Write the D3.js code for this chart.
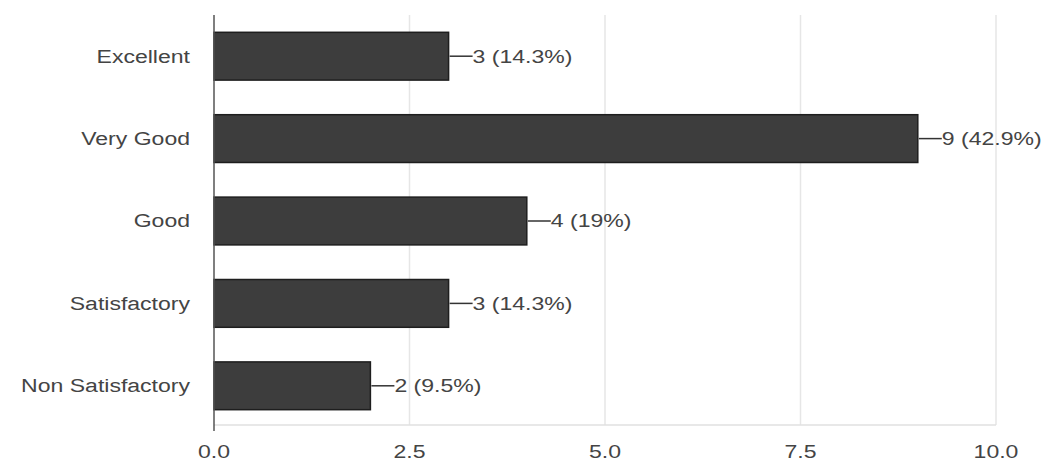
<!DOCTYPE html>
<html>
<head>
<meta charset="utf-8">
<script src="https://cdn.jsdelivr.net/npm/d3@7"></script>
<style>
  body { margin: 0; background: #fff; }
  text { font-family: "Liberation Sans", Arial, sans-serif; }
</style>
</head>
<body>
<div class="graph"></div>
<script>
// chart data
var categories = ["Excellent", "Very Good", "Good", "Satisfactory", "Non Satisfactory"];
var counts = [3, 9, 4, 3, 2];
var percents = ["14.3%", "42.9%", "19%", "14.3%", "9.5%"];
var xTicks = [0, 2.5, 5, 7.5, 10];

var width = 1050, height = 470;
var margin = { top: 15, right: 54, bottom: 45, left: 214 };
var stretch = 1.28; // text in the picture looks wide

var svg = d3.select(".graph").append("svg")
  .attr("width", width)
  .attr("height", height);

var x = d3.scaleLinear()
  .domain([0, 10])
  .range([margin.left, width - margin.right]);

var y = d3.scaleBand()
  .domain(categories)
  .range([margin.top, height - margin.bottom + 2])
  .paddingInner(0.42)
  .paddingOuter(0.21);

// gridlines
svg.append("g")
  .selectAll("line")
  .data(xTicks.slice(1))
  .enter().append("line")
  .attr("x1", function (d) { return x(d); })
  .attr("x2", function (d) { return x(d); })
  .attr("y1", margin.top)
  .attr("y2", height - margin.bottom)
  .attr("stroke", "#e6e6e6")
  .attr("stroke-width", 1.5);

// bottom axis line
svg.append("line")
  .attr("x1", x(0))
  .attr("x2", x(10))
  .attr("y1", height - margin.bottom)
  .attr("y2", height - margin.bottom)
  .attr("stroke", "#e0e0e0")
  .attr("stroke-width", 1.5);

// x tick labels
svg.append("g")
  .selectAll("text")
  .data(xTicks)
  .enter().append("text")
  .attr("transform", function (d) {
    return "translate(" + x(d) + "," + (height - margin.bottom + 27) + ") scale(" + stretch + ",1)";
  })
  .attr("text-anchor", "middle")
  .attr("dy", "0.35em")
  .style("font-size", "18px")
  .attr("fill", "#444")
  .text(d3.format(".1f"));

// bars
svg.append("g")
  .selectAll("rect")
  .data(categories)
  .enter().append("rect")
  .attr("x", x(0))
  .attr("y", function (d) { return y(d); })
  .attr("width", function (d, i) { return x(counts[i]) - x(0); })
  .attr("height", y.bandwidth())
  .attr("fill", "#3d3d3d")
  .attr("stroke", "#1e1e1e")
  .attr("stroke-width", 1.5);

// left axis line
svg.append("line")
  .attr("x1", x(0))
  .attr("x2", x(0))
  .attr("y1", margin.top)
  .attr("y2", height - margin.bottom + 6)
  .attr("stroke", "#555")
  .attr("stroke-width", 1.5);

// category labels
svg.append("g")
  .selectAll("text")
  .data(categories)
  .enter().append("text")
  .attr("transform", function (d) {
    return "translate(" + (x(0) - 24) + "," + (y(d) + y.bandwidth() / 2) + ") scale(" + stretch + ",1)";
  })
  .attr("text-anchor", "end")
  .attr("dy", "0.35em")
  .style("font-size", "18px")
  .attr("fill", "#444")
  .text(function (d) { return d; });

// value labels with leader
var labels = svg.append("g")
  .selectAll("g")
  .data(categories)
  .enter().append("g")
  .attr("transform", function (d, i) {
    return "translate(" + x(counts[i]) + "," + (y(d) + y.bandwidth() / 2) + ")";
  });

labels.append("line")
  .attr("x1", 1)
  .attr("x2", 24)
  .attr("y1", 0)
  .attr("y2", 0)
  .attr("stroke", "#333")
  .attr("stroke-width", 1.5);

labels.append("text")
  .attr("transform", "translate(24,0) scale(" + stretch + ",1)")
  .attr("dy", "0.35em")
  .style("font-size", "18px")
  .attr("fill", "#444")
  .text(function (d, i) { return counts[i] + " (" + percents[i] + ")"; });
</script>
</body>
</html>
